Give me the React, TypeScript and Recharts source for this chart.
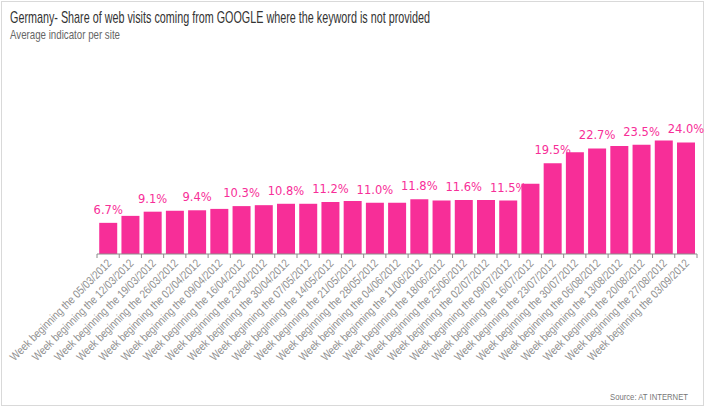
import { BarChart, Bar, XAxis, YAxis, LabelList } from 'recharts';

const weeks = [
  '05/03/2012', '12/03/2012', '19/03/2012', '26/03/2012', '02/04/2012', '09/04/2012',
  '16/04/2012', '23/04/2012', '30/04/2012', '07/05/2012', '14/05/2012', '21/05/2012',
  '28/05/2012', '04/06/2012', '11/06/2012', '18/06/2012', '25/06/2012', '02/07/2012',
  '09/07/2012', '16/07/2012', '23/07/2012', '30/07/2012', '06/08/2012', '13/08/2012',
  '20/08/2012', '27/08/2012', '03/09/2012',
];
const notProvided = [
  6.7, 8.2, 9.1, 9.3, 9.4, 9.7, 10.3, 10.5, 10.8, 10.8, 11.2, 11.4, 11.0, 11.0,
  11.8, 11.5, 11.6, 11.6, 11.5, 15.1, 19.5, 21.9, 22.7, 23.2, 23.5, 24.4, 24.0,
];

const data = weeks.map((w, i) => ({ week: w, value: notProvided[i] }));

const PINK = '#f72e98';
const PLOT_W = 600;
const band = PLOT_W / weeks.length;
const narrow = '"Liberation Sans Narrow", "Arial Narrow", "Liberation Sans", sans-serif';

const WeekTick = (props: any) => {
  const { x, y, payload, index } = props;
  const left = x - band / 2;
  return (
    <g>
      <line x1={left} y1={y - 4} x2={left} y2={y} stroke="#8c8c8c" />
      {index === weeks.length - 1 && (
        <line x1={x + band / 2} y1={y - 4} x2={x + band / 2} y2={y} stroke="#8c8c8c" />
      )}
      <text
        transform={`translate(${x + 4},${y + 6}) rotate(-45)`}
        textAnchor="end"
        fontSize={11.5}
        fontFamily={narrow}
        fill="#8f8f8f"
        textLength={138}
        lengthAdjust="spacingAndGlyphs"
      >
        {'Week beginning the ' + payload.value}
      </text>
    </g>
  );
};

const ValueLabel = (props: any) => {
  const { x, y, width, value, index } = props;
  if (index % 2 !== 0) return null;
  return (
    <text x={x + width / 2} y={y - 9} textAnchor="middle" fontSize={11.5} fontFamily="DejaVu Sans, sans-serif" fill={PINK}>
      {value.toFixed(1)}%
    </text>
  );
};

export default function App() {
  return (
    <div style={{ position: 'absolute', left: 0, top: 0, width: 707, height: 410, background: '#fff' }}>
      <div style={{ position: 'absolute', left: 1, top: 1, width: 703, height: 405, border: '1px solid #d9d9d9', boxSizing: 'border-box' }} />
      <BarChart
        width={707}
        height={410}
        data={data}
        margin={{ top: 114.5, right: 10, bottom: 16, left: 97 }}
        barCategoryGap="10%"
      >
        <XAxis
          dataKey="week"
          height={140}
          interval={0}
          tick={<WeekTick />}
          tickLine={false}
          tickSize={4}
          tickMargin={0}
          axisLine={{ stroke: '#8c8c8c' }}
        />
        <YAxis hide domain={[0, 30]} />
        <Bar dataKey="value" fill={PINK} isAnimationActive={false}>
          <LabelList dataKey="value" content={<ValueLabel />} />
        </Bar>
      </BarChart>
      <svg width={707} height={410} style={{ position: 'absolute', left: 0, top: 0, pointerEvents: 'none' }}>
        <text x={10} y={22.5} fontSize={17} fontFamily={narrow} fill="#333" textLength={420} lengthAdjust="spacingAndGlyphs">
          Germany- Share of web visits coming from GOOGLE where the keyword is not provided
        </text>
        <text x={10} y={38.5} fontSize={13} fontFamily={narrow} fill="#666" textLength={110} lengthAdjust="spacingAndGlyphs">
          Average indicator per site
        </text>
        <text x={610} y={400} fontSize={9} fontFamily={narrow} fill="#777" textLength={78} lengthAdjust="spacingAndGlyphs">
          Source:  AT INTERNET
        </text>
      </svg>
    </div>
  );
}
